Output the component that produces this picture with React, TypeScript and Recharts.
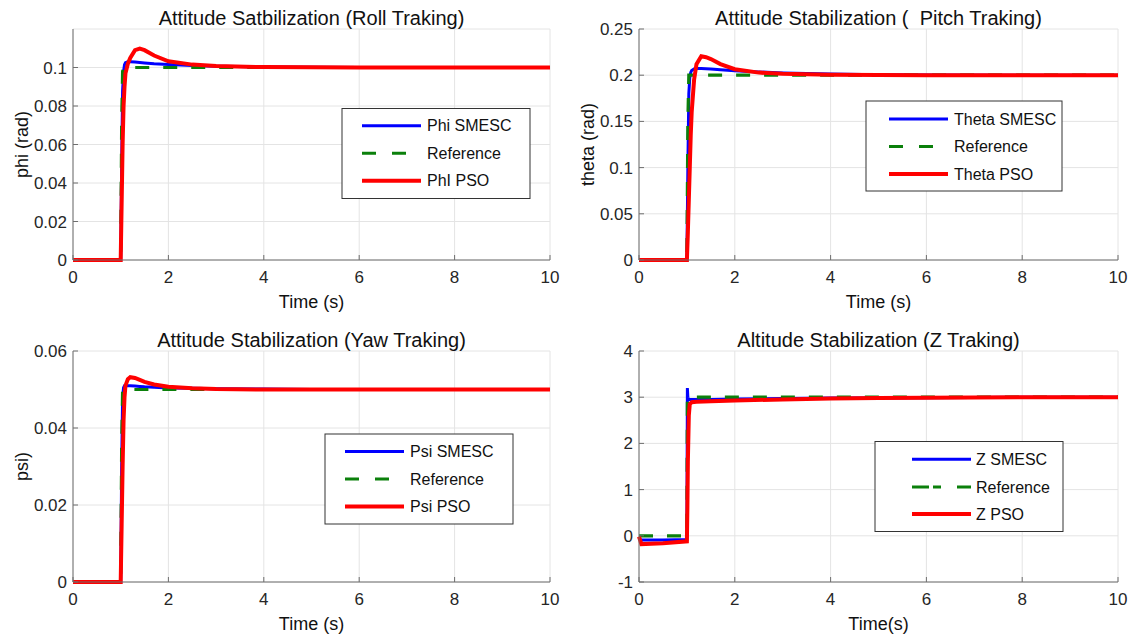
import React from 'react'
import { LineChart, Line, XAxis, YAxis, CartesianGrid } from 'recharts'

const FONT = '"Liberation Sans", Arial, Helvetica, sans-serif'
const INK = '#262626'
const AXIS = '#6e6e6e'
const GRID = '#e4e4e4'
const BLUE = '#0000ff'
const GREEN = '#0b800b'
const RED = '#ff0000'

// time grid (s) used by the three attitude plots
const attTime = [0, 1, 1.02, 1.04, 1.06, 1.08, 1.1, 1.15, 1.2, 1.3, 1.4, 1.5, 1.7, 2, 2.5, 3, 4, 5, 6, 8, 10]

const rollRef = [0, 0, 0.07, 0.098, 0.1, 0.1, 0.1, 0.1, 0.1, 0.1, 0.1, 0.1, 0.1, 0.1, 0.1, 0.1, 0.1, 0.1, 0.1, 0.1, 0.1]
const rollSmesc = [0, 0, 0.05, 0.088, 0.098, 0.1015, 0.1025, 0.103, 0.103, 0.1028, 0.1026, 0.1024, 0.102, 0.1016, 0.1011, 0.1007, 0.1003, 0.1001, 0.1, 0.1, 0.1]
const rollPso = [0, 0, 0.03, 0.06, 0.08, 0.09, 0.097, 0.102, 0.105, 0.109, 0.1098, 0.109, 0.1062, 0.1032, 0.1015, 0.1008, 0.1002, 0.1001, 0.1, 0.1, 0.1]

const pitchRef = [0, 0, 0.15, 0.2, 0.2, 0.2, 0.2, 0.2, 0.2, 0.2, 0.2, 0.2, 0.2, 0.2, 0.2, 0.2, 0.2, 0.2, 0.2, 0.2, 0.2]
const pitchSmesc = [0, 0, 0.1, 0.18, 0.197, 0.203, 0.205, 0.2068, 0.2072, 0.2072, 0.207, 0.2066, 0.2058, 0.2048, 0.2035, 0.2025, 0.2012, 0.2005, 0.2002, 0.2, 0.2]
const pitchPso = [0, 0, 0.03, 0.065, 0.1, 0.135, 0.16, 0.195, 0.212, 0.2205, 0.2195, 0.2175, 0.212, 0.2065, 0.2028, 0.2015, 0.2005, 0.2002, 0.2, 0.2, 0.2]

const yawRef = [0, 0, 0.035, 0.05, 0.05, 0.05, 0.05, 0.05, 0.05, 0.05, 0.05, 0.05, 0.05, 0.05, 0.05, 0.05, 0.05, 0.05, 0.05, 0.05, 0.05]
const yawSmesc = [0, 0, 0.03, 0.048, 0.0505, 0.051, 0.051, 0.051, 0.051, 0.0509, 0.0508, 0.0507, 0.0506, 0.0504, 0.0503, 0.0502, 0.0501, 0.05, 0.05, 0.05, 0.05]
const yawPso = [0, 0, 0.015, 0.03, 0.042, 0.048, 0.051, 0.0527, 0.0532, 0.053, 0.0525, 0.052, 0.0513, 0.0507, 0.0503, 0.0501, 0.05, 0.05, 0.05, 0.05, 0.05]

// altitude plot has its own time grid
const zTime = [0, 0.05, 0.5, 1, 1.01, 1.02, 1.04, 1.06, 1.1, 1.2, 1.5, 2, 3, 4, 5, 6, 8, 10]
const zRef = [0, 0, 0, 0, 3, 3, 3, 3, 3, 3, 3, 3, 3, 3, 3, 3, 3, 3]
const zSmesc = [-0.08, -0.09, -0.09, -0.08, 3.2, 3.0, 2.95, 2.95, 2.95, 2.95, 2.95, 2.96, 2.97, 2.98, 2.985, 2.99, 3.0, 3.0]
const zPso = [-0.02, -0.18, -0.16, -0.12, 0.6, 1.6, 2.6, 2.85, 2.89, 2.9, 2.91, 2.93, 2.95, 2.97, 2.98, 2.99, 3.0, 3.0]

const timeTicks = [0, 2, 4, 6, 8, 10]
const rollTicks = [0, 0.02, 0.04, 0.06, 0.08, 0.1]
const pitchTicks = [0, 0.05, 0.1, 0.15, 0.2, 0.25]
const yawTicks = [0, 0.02, 0.04, 0.06]
const zTicks = [-1, 0, 1, 2, 3, 4]

const panels = [
  {
    left: 0, top: 0, height: 318, right: 16, mTop: 29, mBottom: 28,
    time: attTime, smesc: rollSmesc, ref: rollRef, pso: rollPso,
    yDomain: [0, 0.12], yTicks: rollTicks,
    title: 'Attitude Satbilization (Roll Traking)', xLabel: 'Time (s)', yLabel: 'phi (rad)',
    names: ['Phi SMESC', 'Reference', 'PhI PSO'],
    legend: { x: 342, y: 108.5, w: 188, h: 90, l1: 362, l2: 421, tx: 427, rows: [125.7, 153.3, 180.7], dash: '14 16' },
  },
  {
    left: 566, top: 0, height: 318, right: 14, mTop: 29, mBottom: 28,
    time: attTime, smesc: pitchSmesc, ref: pitchRef, pso: pitchPso,
    yDomain: [0, 0.25], yTicks: pitchTicks,
    title: 'Attitude Stabilization (  Pitch Traking)', xLabel: 'Time (s)', yLabel: 'theta (rad)',
    names: ['Theta SMESC', 'Reference', 'Theta PSO'],
    legend: { x: 866, y: 101, w: 196, h: 90, l1: 889, l2: 948, tx: 954, rows: [119, 146.5, 174], dash: '14 16' },
  },
  {
    left: 0, top: 318, height: 319, right: 16, mTop: 33, mBottom: 25,
    time: attTime, smesc: yawSmesc, ref: yawRef, pso: yawPso,
    yDomain: [0, 0.06], yTicks: yawTicks,
    title: 'Attitude Stabilization (Yaw Traking)', xLabel: 'Time (s)', yLabel: 'psi)',
    names: ['Psi SMESC', 'Reference', 'Psi PSO'],
    legend: { x: 325, y: 434, w: 188, h: 90, l1: 345, l2: 404, tx: 410, rows: [451.5, 479, 506.5], dash: '14 16' },
  },
  {
    left: 566, top: 318, height: 319, right: 14, mTop: 33, mBottom: 25,
    time: zTime, smesc: zSmesc, ref: zRef, pso: zPso,
    yDomain: [-1, 4], yTicks: zTicks,
    title: 'Altitude Stabilization (Z Traking)', xLabel: 'Time(s)', yLabel: '',
    names: ['Z SMESC', 'Reference', 'Z PSO'],
    legend: { x: 875, y: 441.5, w: 188, h: 90, l1: 912, l2: 971, tx: 976, rows: [459.3, 487, 514], dash: '17 4 8 16 14' },
  },
]

const tickStyle = { fill: INK, fontSize: 17, fontFamily: FONT }

function Panel({ p }: { p: any }) {
  const data = p.time.map((t: number, i: number) => ({
    t,
    smesc: p.smesc[i],
    ref: p.ref[i],
    pso: p.pso[i],
  }))
  return (
    <div style={{ position: 'absolute', left: p.left, top: p.top }}>
      <LineChart
        width={566}
        height={p.height}
        data={data}
        margin={{ top: p.mTop, right: p.right, bottom: p.mBottom, left: 0 }}
      >
        <CartesianGrid stroke={GRID} strokeWidth={1} />
        <XAxis
          dataKey="t"
          type="number"
          domain={[0, 10]}
          ticks={timeTicks}
          interval={0}
          height={30}
          tickSize={-5}
          tickMargin={16}
          stroke={AXIS}
          tick={tickStyle}
        />
        <XAxis
          xAxisId="top"
          orientation="top"
          type="number"
          domain={[0, 10]}
          ticks={timeTicks}
          interval={0}
          height={0}
          tickSize={-5}
          tick={false}
          stroke={AXIS}
        />
        <YAxis
          type="number"
          domain={p.yDomain}
          ticks={p.yTicks}
          interval={0}
          width={73}
          tickSize={-5}
          tickMargin={11}
          stroke={AXIS}
          tick={tickStyle}
        />
        <YAxis
          yAxisId="right"
          orientation="right"
          type="number"
          domain={p.yDomain}
          ticks={p.yTicks}
          interval={0}
          width={0}
          tickSize={-5}
          tick={false}
          stroke={AXIS}
        />
        <Line type="linear" dataKey="smesc" stroke={BLUE} strokeWidth={3} dot={false} isAnimationActive={false} />
        <Line type="linear" dataKey="ref" stroke={GREEN} strokeWidth={3.2} strokeDasharray="14 14" dot={false} isAnimationActive={false} />
        <Line type="linear" dataKey="pso" stroke={RED} strokeWidth={4} dot={false} isAnimationActive={false} />
      </LineChart>
    </div>
  )
}

function Labels({ p }: { p: any }) {
  const plotLeft = p.left + 73
  const plotRight = p.left + 566 - p.right
  const plotTop = p.top + p.mTop
  const plotBottom = p.top + p.height - p.mBottom - 30
  const cx = (plotLeft + plotRight) / 2
  const cy = (plotTop + plotBottom) / 2
  const lg = p.legend
  const colors = [BLUE, GREEN, RED]
  return (
    <g>
      <text x={cx} y={plotTop - 4} textAnchor="middle" fontSize={20} fill="#111" style={{ whiteSpace: 'pre' }}>
        {p.title}
      </text>
      <text x={cx} y={plotBottom + 48} textAnchor="middle" fontSize={18} fill="#111">
        {p.xLabel}
      </text>
      {p.yLabel && (
        <text
          x={plotLeft - 45}
          y={cy}
          textAnchor="middle"
          fontSize={18}
          fill="#111"
          transform={`rotate(-90, ${plotLeft - 45}, ${cy})`}
        >
          {p.yLabel}
        </text>
      )}
      <rect x={lg.x} y={lg.y} width={lg.w} height={lg.h} fill="#fff" stroke="#333" strokeWidth={1} />
      {p.names.map((name: string, i: number) => (
        <g key={name + i}>
          <line
            x1={lg.l1}
            x2={lg.l2}
            y1={lg.rows[i]}
            y2={lg.rows[i]}
            stroke={colors[i]}
            strokeWidth={i === 2 ? 4 : 3}
            strokeDasharray={i === 1 ? lg.dash : undefined}
          />
          <text x={lg.tx} y={lg.rows[i]} dominantBaseline="central" fontSize={16} fill="#111">
            {name}
          </text>
        </g>
      ))}
    </g>
  )
}

export default function App() {
  return (
    <div style={{ position: 'absolute', left: 0, top: 0, width: 1132, height: 637, background: '#fff', fontFamily: FONT }}>
      {panels.map((p, i) => (
        <Panel key={i} p={p} />
      ))}
      <svg
        width={1132}
        height={637}
        style={{ position: 'absolute', left: 0, top: 0, pointerEvents: 'none' }}
        fontFamily={FONT}
      >
        {panels.map((p, i) => (
          <Labels key={i} p={p} />
        ))}
      </svg>
    </div>
  )
}
